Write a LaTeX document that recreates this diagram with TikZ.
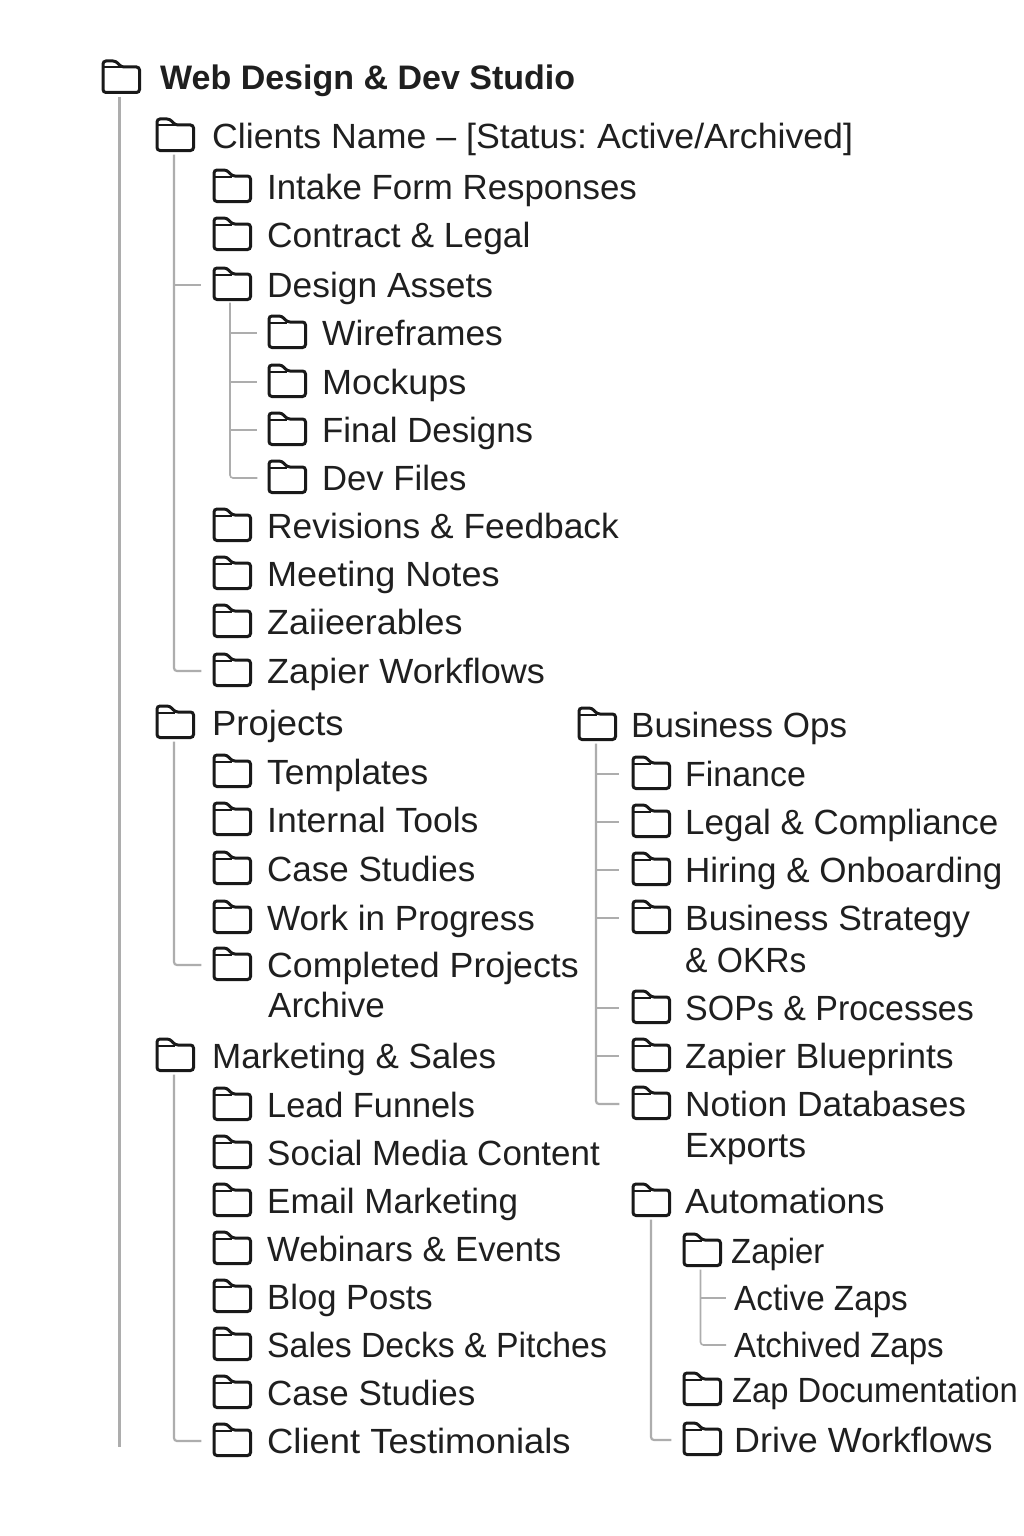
\documentclass[tikz,border=0pt]{standalone}
\usepackage{fontspec}
\setmainfont{Liberation Sans}
\frenchspacing
\tikzset{
  foldbox/.style={minimum width=37pt,minimum height=33pt,inner sep=0pt},
  foldtext/.style={anchor=west,inner sep=0pt,text height=24pt,text depth=0pt,
    font=\fontsize{35}{38}\selectfont,text=black!88},
  roottext/.style={foldtext,font=\fontsize{34}{38}\selectfont\bfseries},
  treeline/.style={draw=black!32,line width=2.2pt,rounded corners=3pt},
  branchline/.style={treeline,line width=1.6pt},
  foldericon/.pic={
    \draw[black!90,line width=3pt,rounded corners=3pt,fill=white]
      (-18,14.5) -- (-18,-17) -- (-5,-17) -- (0,-11) -- (18.5,-11) -- (18.5,14.5) -- cycle;
    \draw[black!90,line width=2pt] (-17,-10.5) -- (0,-10.5);
  }
}
\newcommand{\fold}[6][]{
  \node[foldbox] (#2) at (#3,#4) {};
  \pic at (#2) {foldericon};
  \node[foldtext,#1] (#2text) at (#5,#4) {#6};
}
\begin{document}
\begin{tikzpicture}[x=1pt,y=-1pt]
\useasboundingbox[fill=white] (0,0) rectangle (1024,1536);

\node[foldbox] (studio) at (121,78) {};
\pic at (studio) {foldericon};
\node[roottext] (studiotext) at (160,78) {Web Design \& Dev Studio};

\fold[xscale=1.02]{clients}{175}{136}{212}{Clients Name – [Status: Active/Archived]}
\fold[xscale=.995]{intake}{232}{187}{267}{Intake Form Responses}
\fold[xscale=1.01]{contract}{232}{235}{267}{Contract \& Legal}
\fold[xscale=1.01]{design}{232}{285}{267}{Design Assets}
\fold[xscale=1.01]{wires}{287}{333}{322}{Wireframes}
\fold[xscale=1.03]{mockups}{287}{382}{322}{Mockups}
\fold[xscale=.995]{finals}{287}{430}{322}{Final Designs}
\fold[xscale=.99]{devfiles}{287}{478}{322}{Dev Files}
\fold[xscale=1.01]{revisions}{232}{526}{267}{Revisions \& Feedback}
\fold[xscale=1.03]{meeting}{232}{574}{267}{Meeting Notes}
\fold[xscale=1.025]{zaiie}{232}{622}{267}{Zaiieerables}
\fold[xscale=1.03]{zapflows}{232}{671}{267}{Zapier Workflows}

\fold[xscale=1.04]{projects}{175}{723}{212}{Projects}
\fold[xscale=1.01]{templates}{232}{772}{267}{Templates}
\fold[xscale=1.015]{internal}{232}{820}{267}{Internal Tools}
\fold{cases}{232}{869}{267}{Case Studies}
\fold{progress}{232}{918}{267}{Work in Progress}
\fold[xscale=1.02]{completed}{232}{965}{267}{Completed Projects}
\node[foldtext] (archtext) at (268,1005) {Archive};

\fold{marketing}{175}{1056}{212}{Marketing \& Sales}
\fold[xscale=.98]{funnels}{232}{1105}{267}{Lead Funnels}
\fold{social}{232}{1153}{267}{Social Media Content}
\fold{email}{232}{1201}{267}{Email Marketing}
\fold[xscale=.99]{webinars}{232}{1249}{267}{Webinars \& Events}
\fold[xscale=.99]{blog}{232}{1297}{267}{Blog Posts}
\fold[xscale=.965]{decks}{232}{1345}{267}{Sales Decks \& Pitches}
\fold{casesb}{232}{1393}{267}{Case Studies}
\fold[xscale=1.04]{testim}{232}{1441}{267}{Client Testimonials}

\fold{business}{597}{725}{631}{Business Ops}
\fold[xscale=.97]{finance}{651}{774}{685}{Finance}
\fold{legal}{651}{822}{685}{Legal \& Compliance}
\fold{hiring}{651}{870}{685}{Hiring \& Onboarding}
\fold[xscale=1.01]{strategy}{651}{918}{685}{Business Strategy}
\node[foldtext,xscale=.96] (okrtext) at (685,960) {\& OKRs};
\fold[xscale=.97]{sops}{651}{1008}{685}{SOPs \& Processes}
\fold[xscale=1.015]{blueprints}{651}{1056}{685}{Zapier Blueprints}
\fold[xscale=1.01]{notion}{651}{1104}{685}{Notion Databases}
\node[foldtext,xscale=1.02] (exporttext) at (685,1145) {Exports};

\fold[xscale=1.025]{autom}{651}{1201}{685}{Automations}
\fold[xscale=.94]{zapier}{702}{1251}{731}{Zapier}
\node[foldtext,xscale=.95] (activetext) at (734,1298) {Active Zaps};
\node[foldtext,xscale=.945] (archivedtext) at (734,1345) {Atchived Zaps};
\fold[xscale=.935]{zapdoc}{702}{1390}{732}{Zap Documentation}
\fold[xscale=1.025]{drive}{702}{1440}{734}{Drive Workflows}

\coordinate (trunkend) at (119.5,1447);
\draw[treeline] ([xshift=-1.5pt,yshift=-2pt]studio.south) -- (trunkend);

\draw[treeline,shorten >=12pt] ([xshift=-1pt,yshift=-2pt]clients.south) |- (zapflows.west);
\draw[branchline,shorten >=12pt] (174,0 |- design.west) -- (design.west);
\draw[branchline,shorten >=11pt] ([xshift=-2pt,yshift=-1pt]design.south) |- (devfiles.west);
\foreach \kid in {wires,mockups,finals}
  \draw[branchline,shorten >=11pt] (230,0 |- \kid.west) -- (\kid.west);

\draw[treeline,shorten >=12pt] ([xshift=-1pt,yshift=-2pt]projects.south) |- (completed.west);
\draw[treeline,shorten >=12pt] ([xshift=-1pt,yshift=-2pt]marketing.south) |- (testim.west);

\draw[treeline,shorten >=13pt] ([xshift=-1pt,yshift=-2pt]business.south) |- (notion.west);
\foreach \kid in {finance,legal,hiring,strategy,sops,blueprints}
  \draw[branchline,shorten >=13pt] (596,0 |- \kid.west) -- (\kid.west);

\draw[treeline,shorten >=12pt] ([yshift=-2pt]autom.south) |- (drive.west);
\draw[branchline,shorten >=8pt] ([xshift=-1.5pt,yshift=-2pt]zapier.south) |- (archivedtext.west);
\draw[branchline,shorten >=8pt] (701,0 |- activetext.west) -- (activetext.west);
\end{tikzpicture}
\end{document}
